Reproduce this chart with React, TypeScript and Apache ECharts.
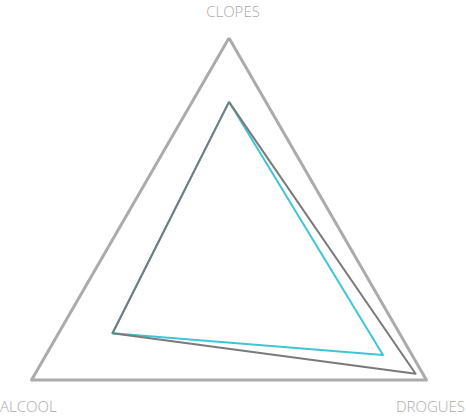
import { useEffect, useRef } from 'react';
import * as echarts from 'echarts';

const indicators = ['CLOPES', 'ALCOOL', 'DROGUES'];
const maxValues = [100, 100, 100];
const greyValues = [72, 59, 94.5];
const cyanValues = [72, 59, 78];

const labelColor = '#a9a9a9';
const labelFont = '"Open Sans", Lato, sans-serif';

export default function App() {
  const chartRef = useRef<HTMLDivElement>(null);

  useEffect(() => {
    if (!chartRef.current) return;
    const chart = echarts.init(chartRef.current, undefined, { renderer: 'svg' });

    const option: echarts.EChartsOption = {
      animation: false,
      radar: {
        center: [229, 266],
        radius: 228,
        startAngle: 90,
        splitNumber: 1,
        shape: 'polygon',
        indicator: indicators.map((name) => ({ name, max: 100, min: 0 })),
        axisName: { show: false },
        axisLine: { show: false },
        splitLine: { show: false },
        splitArea: { show: false },
        axisTick: { show: false },
        axisLabel: { show: false },
      },
      graphic: [
        {
          type: 'text',
          left: 'center',
          top: 3,
          style: { text: indicators[0], fill: labelColor, font: `300 15px ${labelFont}` },
        },
        {
          type: 'text',
          left: 0,
          top: 398,
          style: { text: indicators[1], fill: labelColor, font: `300 15px ${labelFont}` },
        },
        {
          type: 'text',
          right: 1,
          top: 398,
          style: { text: indicators[2], fill: labelColor, font: `300 15px ${labelFont}` },
        },
      ],
      series: [
        {
          type: 'radar',
          symbol: 'none',
          data: [
            {
              value: maxValues,
              lineStyle: { color: '#ababab', width: 3 },
            },
            {
              value: cyanValues,
              lineStyle: { color: '#3ec5d6', width: 2 },
            },
            {
              value: greyValues,
              lineStyle: { color: '#7a7a7a', width: 2 },
            },
          ],
        },
      ],
    };

    chart.setOption(option);
    return () => chart.dispose();
  }, []);

  return (
    <div
      ref={chartRef}
      style={{ position: 'absolute', left: 0, top: 0, width: '466px', height: '419px' }}
    />
  );
}
